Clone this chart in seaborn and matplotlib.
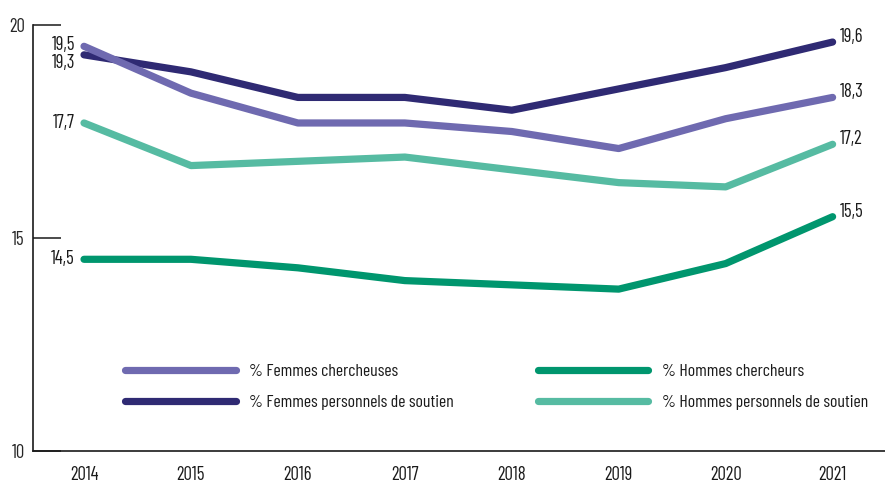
import matplotlib
matplotlib.use("Agg")
import matplotlib.pyplot as plt
from matplotlib import font_manager
from matplotlib.ticker import FixedLocator
import seaborn as sns
import pandas as pd

years = [2014, 2015, 2016, 2017, 2018, 2019, 2020, 2021]
femmes_chercheuses = [19.5, 18.4, 17.7, 17.7, 17.5, 17.1, 17.8, 18.3]
femmes_soutien = [19.3, 18.9, 18.3, 18.3, 18.0, 18.5, 19.0, 19.6]
hommes_chercheurs = [14.5, 14.5, 14.3, 14.0, 13.9, 13.8, 14.4, 15.5]
hommes_soutien = [17.7, 16.7, 16.8, 16.9, 16.6, 16.3, 16.2, 17.2]

series_names = [
    "% Femmes chercheuses",
    "% Femmes personnels de soutien",
    "% Hommes chercheurs",
    "% Hommes personnels de soutien",
]
series_values = [femmes_chercheuses, femmes_soutien, hommes_chercheurs, hommes_soutien]
palette = {
    "% Femmes chercheuses": "#6f6ab0",
    "% Femmes personnels de soutien": "#2f2a73",
    "% Hommes chercheurs": "#00966e",
    "% Hommes personnels de soutien": "#56bba2",
}

rows = []
for name, vals in zip(series_names, series_values):
    for i, (yr, v) in enumerate(zip(years, vals)):
        rows.append({"pos": i, "year": yr, "serie": name, "valeur": v})
df = pd.DataFrame(rows)

sns.set_theme(style="white")
available = {f.name for f in font_manager.fontManager.ttflist}
family = "DejaVu Sans"
for cand in ["Barlow Condensed", "Roboto Condensed", "Liberation Sans Narrow"]:
    if cand in available:
        family = cand
        break
plt.rcParams["font.family"] = [family, "DejaVu Sans"]
FS = 13.5
INK = "#1a1a1a"

fig = plt.figure(figsize=(8.85, 4.84), dpi=100)
ax = fig.add_axes([33 / 885, 33 / 484, 852 / 885, 426 / 484])

sns.lineplot(data=df, x="pos", y="valeur", hue="serie", hue_order=series_names,
             palette=palette, linewidth=5.2, ax=ax, legend=True)
for line in ax.lines:
    line.set_solid_capstyle("round")
    line.set_clip_on(False)
# researchers (women) line sits above the support-staff line where they cross
ax.lines[0].set_zorder(3)

ax.set_xlim(-0.477, 7.49)
ax.set_ylim(10, 20)
ax.set_xlabel("")
ax.set_ylabel("")

ax.xaxis.set_major_locator(FixedLocator(range(len(years))))
ax.set_xticklabels([str(y) for y in years])
ax.xaxis.set_minor_locator(FixedLocator([i + 0.5 for i in range(len(years) - 1)]))
ax.tick_params(axis="x", which="major", length=0, pad=11, labelsize=FS, colors=INK)
ax.tick_params(axis="x", which="minor", direction="in", length=11, width=1.1, color=INK)
ax.set_yticks([10, 15, 20])
ax.tick_params(axis="y", direction="in", length=20, width=1.1, color=INK,
               labelsize=FS, pad=6, left=True)
for side in ["top", "right"]:
    ax.spines[side].set_visible(False)
for side in ["left", "bottom"]:
    ax.spines[side].set_color(INK)
    ax.spines[side].set_linewidth(1.2)

# value labels at both ends of each series
def fmt(v):
    return f"{v:.1f}".replace(".", ",")

start_offsets = {
    "% Femmes chercheuses": 1,
    "% Femmes personnels de soutien": -8,
    "% Hommes chercheurs": 0,
    "% Hommes personnels de soutien": 0,
}
for name, vals in zip(series_names, series_values):
    ax.annotate(fmt(vals[0]), (0, vals[0]), xytext=(-9, start_offsets[name]),
                textcoords="offset pixels", ha="right", va="center",
                fontsize=FS, color=INK)
    ax.annotate(fmt(vals[-1]), (len(years) - 1, vals[-1]), xytext=(7, 5),
                textcoords="offset pixels", ha="left", va="center",
                fontsize=FS, color=INK)

handles, labels = ax.get_legend_handles_labels()
leg = ax.legend(handles, labels, ncol=2, loc="upper left",
                bbox_to_anchor=(0.1, 0.222), frameon=False, fontsize=12.8,
                handlelength=6.2, handletextpad=0.75, columnspacing=4.75,
                labelspacing=0.9, borderaxespad=0)
for h in leg.get_lines():
    h.set_linewidth(5.2)
    h.set_solid_capstyle("round")
for t in leg.get_texts():
    t.set_color(INK)

fig.savefig("out.png", dpi=100)
